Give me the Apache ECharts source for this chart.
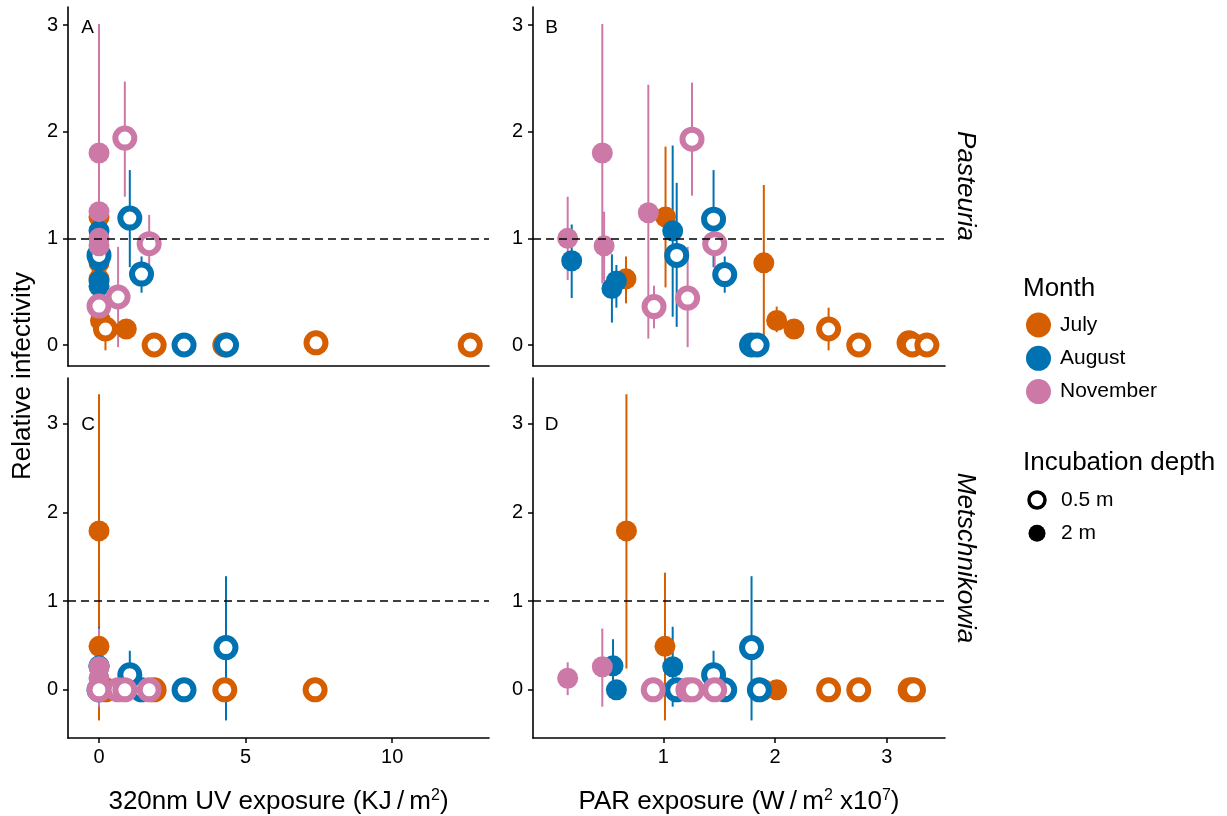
<!DOCTYPE html>
<html><head><meta charset="utf-8">
<script src="https://cdn.jsdelivr.net/npm/echarts@6/dist/echarts.min.js"></script>
<style>html,body{margin:0;padding:0;background:#fff}#c{width:1227px;height:816px}</style>
</head><body><div id="c"></div>
<script>
// ---------------- DATA ----------------
const months = ['July', 'August', 'November'];
const depths = ['0.5 m', '2 m'];
const panelLetters = ['A', 'B', 'C', 'D'];
const stripLabels = ['Pasteuria', 'Metschnikowia'];
const yAxisTitle = 'Relative infectivity';
const uvTicks = [0, 5, 10];
const parTicks = [1, 2, 3];
const yTicks = [0, 1, 2, 3];
const referenceLine = 1;

// rows: [month, depth, exposure, relative infectivity, lower, upper]
const panelA = [ // Pasteuria, 320nm UV
  ['July','2 m',0,1.20,0.54,1.86], ['July','2 m',0,0.77,0.08,1.50], ['July','2 m',0,0.62,0.39,0.83],
  ['July','2 m',0.05,0.23,0.12,0.36], ['July','2 m',0.93,0.15,null,null],
  ['July','0.5 m',0.22,0.15,-0.05,0.35], ['July','0.5 m',1.88,0,null,null], ['July','0.5 m',4.29,0,null,null],
  ['July','0.5 m',7.40,0.02,null,null], ['July','0.5 m',12.66,0,null,null],
  ['August','2 m',0,1.07,0.265,1.87], ['August','2 m',0,0.79,0.44,1.13], ['August','2 m',0,0.55,0.21,0.85],
  ['August','2 m',0,0.60,0.35,0.75],
  ['August','0.5 m',0,0.84,0.17,1.52], ['August','0.5 m',1.05,1.19,0.73,1.64], ['August','0.5 m',1.45,0.665,0.49,0.83],
  ['August','0.5 m',2.90,0,null,null], ['August','0.5 m',4.35,0,null,null],
  ['November','2 m',0,1.80,0.58,3.01], ['November','2 m',0,1.25,0.06,2.44], ['November','2 m',0,1.00,0.61,1.39],
  ['November','2 m',0,0.93,0.60,1.25],
  ['November','0.5 m',0,0.365,0.156,0.556], ['November','0.5 m',0.65,0.45,-0.02,0.92],
  ['November','0.5 m',0.88,1.94,1.39,2.47], ['November','0.5 m',1.71,0.95,0.72,1.22]
];
const panelB = [ // Pasteuria, PAR
  ['July','2 m',0.666,0.62,0.39,0.83], ['July','2 m',1.02,1.20,0.54,1.86], ['July','2 m',1.90,0.77,0.08,1.50],
  ['July','2 m',2.015,0.23,0.12,0.36], ['July','2 m',2.17,0.15,null,null],
  ['July','0.5 m',2.48,0.15,-0.05,0.35], ['July','0.5 m',2.75,0,null,null], ['July','0.5 m',3.20,0.02,null,null],
  ['July','0.5 m',3.23,0,null,null], ['July','0.5 m',3.36,0,null,null],
  ['August','2 m',0.18,0.79,0.44,1.13], ['August','2 m',0.54,0.53,0.21,0.85], ['August','2 m',0.58,0.60,0.35,0.75],
  ['August','2 m',1.084,1.07,0.265,1.87],
  ['August','0.5 m',1.12,0.84,0.17,1.52], ['August','0.5 m',1.45,1.18,0.73,1.64], ['August','0.5 m',1.55,0.66,0.49,0.83],
  ['August','0.5 m',1.79,0,null,null], ['August','0.5 m',1.84,0,null,null],
  ['November','2 m',0.144,1.00,0.61,1.39], ['November','2 m',0.454,1.80,0.58,3.01], ['November','2 m',0.47,0.93,0.60,1.25],
  ['November','2 m',0.866,1.24,0.06,2.44],
  ['November','0.5 m',0.917,0.36,0.156,0.556], ['November','0.5 m',1.218,0.44,-0.02,0.92],
  ['November','0.5 m',1.257,1.93,1.40,2.46], ['November','0.5 m',1.46,0.95,0.72,1.22]
];
const panelC = [ // Metschnikowia, 320nm UV
  ['July','2 m',0,1.79,0.24,3.33], ['July','2 m',0,0.49,-0.345,1.32], ['July','2 m',0,0,null,null], ['July','2 m',0.05,0,null,null],
  ['July','0.5 m',0.22,0,null,null], ['July','0.5 m',1.88,0,null,null], ['July','0.5 m',4.29,0,null,null], ['July','0.5 m',7.37,0,null,null],
  ['August','2 m',0,0.27,-0.03,0.57], ['August','2 m',0,0,null,null], ['August','2 m',0,0.26,-0.19,0.71],
  ['August','0.5 m',0,0,null,null], ['August','0.5 m',1.05,0.17,-0.09,0.44], ['August','0.5 m',1.45,0,null,null],
  ['August','0.5 m',2.90,0,null,null], ['August','0.5 m',4.33,0.476,-0.345,1.28],
  ['November','2 m',0,0.13,-0.06,0.31], ['November','2 m',0,0.26,-0.19,0.69],
  ['November','0.5 m',0,0,null,null], ['November','0.5 m',0.65,0,null,null], ['November','0.5 m',0.88,0,null,null],
  ['November','0.5 m',1.71,0,null,null]
];
const panelD = [ // Metschnikowia, PAR
  ['July','2 m',0.67,1.79,0.24,3.33], ['July','2 m',1.015,0.49,-0.345,1.32], ['July','2 m',1.90,0,null,null], ['July','2 m',2.015,0,null,null],
  ['July','0.5 m',2.48,0,null,null], ['July','0.5 m',2.75,0,null,null], ['July','0.5 m',3.21,0,null,null], ['July','0.5 m',3.24,0,null,null],
  ['August','2 m',0.55,0.27,-0.03,0.57], ['August','2 m',0.58,0,null,null], ['August','2 m',1.084,0.26,-0.19,0.71],
  ['August','0.5 m',1.12,0,null,null], ['August','0.5 m',1.45,0.17,-0.09,0.44], ['August','0.5 m',1.55,0,null,null],
  ['August','0.5 m',1.79,0.476,-0.345,1.28], ['August','0.5 m',1.86,0,null,null],
  ['November','2 m',0.144,0.13,-0.06,0.31], ['November','2 m',0.454,0.26,-0.19,0.69],
  ['November','0.5 m',0.91,0,null,null], ['November','0.5 m',1.22,0,null,null], ['November','0.5 m',1.26,0,null,null],
  ['November','0.5 m',1.46,0,null,null]
];

// ---------------- STYLE / LAYOUT ----------------
const monthColors = { July: '#D55E00', August: '#0072B2', November: '#CC79A7' };
const FONT = '"Liberation Sans", Arial, sans-serif';
const panels = [panelA, panelB, panelC, panelD];
const grids = [
  { left: 68, top: 7, width: 421, height: 359 },
  { left: 533, top: 7, width: 412, height: 359 },
  { left: 68, top: 378, width: 421, height: 360 },
  { left: 533, top: 378, width: 412, height: 360 }
];
const xRanges = [[-1.058, 13.30], [-0.1665, 3.522], [-1.058, 13.30], [-0.1665, 3.522]];
const yRanges = [[-0.197, 3.169], [-0.197, 3.169], [-0.543, 3.513], [-0.543, 3.513]];
const xTickSets = [uvTicks, parTicks, uvTicks, parTicks];

const axisLine = { show: true, onZero: false, lineStyle: { color: '#000', width: 1.6 } };

const xAxes = grids.map((g, i) => {
  const bottom = i >= 2;
  return {
    type: 'value', gridIndex: i, min: xRanges[i][0], max: xRanges[i][1],
    axisLine, splitLine: { show: false },
    axisTick: { show: bottom, length: 5, lineStyle: { color: '#000', width: 1.5 }, customValues: xTickSets[i] },
    axisLabel: { show: bottom, customValues: xTickSets[i], fontSize: 20, color: '#000', fontFamily: FONT, margin: 9 }
  };
});
const yAxes = grids.map((g, i) => ({
  type: 'value', gridIndex: i, min: yRanges[i][0], max: yRanges[i][1],
  axisLine, splitLine: { show: false },
  axisTick: { show: true, length: 5, lineStyle: { color: '#000', width: 1.5 }, customValues: yTicks },
  axisLabel: { customValues: yTicks, fontSize: 20, color: '#000', fontFamily: FONT, margin: 10 }
}));

const series = [];
panels.forEach((rows, i) => {
  // reference line
  series.push({
    type: 'line', xAxisIndex: i, yAxisIndex: i, data: [], z: 1, silent: true,
    markLine: {
      silent: true, symbol: 'none', animation: false,
      label: { show: false },
      lineStyle: { color: '#000', width: 1.5, type: [8, 5] },
      data: [{ yAxis: referenceLine }]
    }
  });
  // error bars
  const bars = rows.filter(r => r[4] !== null).map(r => [r[2], r[4], r[5], months.indexOf(r[0])]);
  series.push({
    type: 'custom', xAxisIndex: i, yAxisIndex: i, z: 2, silent: true,
    encode: { x: 0, y: [1, 2] },
    data: bars,
    renderItem: (params, api) => {
      const x = api.value(0);
      const p1 = api.coord([x, api.value(1)]);
      const p2 = api.coord([x, api.value(2)]);
      return {
        type: 'line',
        shape: { x1: p1[0], y1: p1[1], x2: p2[0], y2: p2[1] },
        style: { stroke: monthColors[months[api.value(3)]], lineWidth: 2 }
      };
    }
  });
  // points
  months.forEach(m => {
    ['2 m', '0.5 m'].forEach(d => {
      const pts = rows.filter(r => r[0] === m && r[1] === d).map(r => [r[2], r[3]]);
      const hollow = d === '0.5 m';
      series.push({
        type: 'scatter', xAxisIndex: i, yAxisIndex: i, z: 3, silent: true,
        name: m + ' ' + d,
        symbol: 'circle',
        symbolSize: hollow ? 19 : 21,
        itemStyle: hollow
          ? { color: '#fff', borderColor: monthColors[m], borderWidth: 6, opacity: 1 }
          : { color: monthColors[m], borderWidth: 0, opacity: 1 },
        data: pts
      });
    });
  });
});

// text + legend graphics
const txt = (x, y, text, size, extra) => Object.assign({
  type: 'text', x, y, silent: true,
  style: Object.assign({ text, fontSize: size, fontFamily: FONT, fill: '#000', align: 'left', verticalAlign: 'middle' }, extra || {})
});
const graphic = [];
// panel letters
const letterPos = [[87.5, 28], [551.5, 28], [88, 425], [551.5, 425]];
panelLetters.forEach((l, i) => graphic.push(txt(letterPos[i][0], letterPos[i][1], l, 19, { align: 'center' })));
// y title
graphic.push(Object.assign(txt(23, 376, yAxisTitle, 26, { align: 'center' }), { rotation: Math.PI / 2 }));
// strip labels
graphic.push(Object.assign(txt(965, 186, stripLabels[0], 26, { align: 'center', fontStyle: 'italic' }), { rotation: -Math.PI / 2 }));
graphic.push(Object.assign(txt(965, 558, stripLabels[1], 26, { align: 'center', fontStyle: 'italic' }), { rotation: -Math.PI / 2 }));
// x titles
const supRich = { sup: { fontSize: 16, fontFamily: FONT, fill: '#000', verticalAlign: 'top', padding: [0, 0, 12, 0] } };
graphic.push(txt(278.5, 802, '320nm UV exposure (KJ\u2009/\u2009m{sup|2})', 26, { align: 'center', rich: supRich }));
graphic.push(txt(739, 802, 'PAR exposure (W\u2009/\u2009m{sup|2} x10{sup|7})', 26, { align: 'center', rich: supRich }));
// legend: Month
graphic.push(txt(1023, 289, 'Month', 26));
months.forEach((m, k) => {
  const cy = 325 + k * 33.3;
  graphic.push({ type: 'circle', silent: true, shape: { cx: 1038.5, cy, r: 12.5 }, style: { fill: monthColors[m] } });
  graphic.push(txt(1060, cy, m, 21));
});
// legend: Incubation depth
graphic.push(txt(1023, 463, 'Incubation depth', 26));
depths.forEach((d, k) => {
  const cy = 500 + k * 33.3;
  const hollow = d === '0.5 m';
  graphic.push({
    type: 'circle', silent: true, shape: { cx: 1037, cy, r: hollow ? 8 : 8.5 },
    style: hollow ? { fill: '#fff', stroke: '#000', lineWidth: 3.5 } : { fill: '#000' }
  });
  graphic.push(txt(1061, cy, d, 21));
});

const chart = echarts.init(document.getElementById('c'), null, { renderer: 'canvas' });
chart.setOption({
  animation: false,
  backgroundColor: '#fff',
  grid: grids.map(g => Object.assign({ containLabel: false, outerBoundsMode: 'none' }, g)),
  xAxis: xAxes,
  yAxis: yAxes,
  series,
  graphic
});
</script></body></html>
